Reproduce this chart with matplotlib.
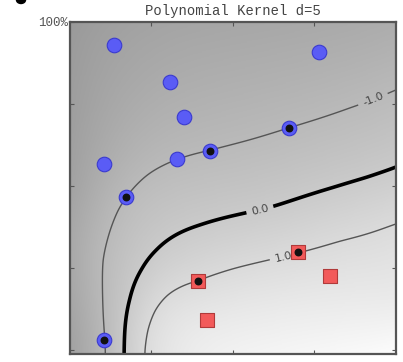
import numpy as np
import matplotlib
matplotlib.use("Agg")
import matplotlib.pyplot as plt
from matplotlib.colors import LinearSegmentedColormap, Normalize
from matplotlib.patches import Ellipse

# training points (fraction of the axis range)
blue_x = [0.137, 0.308, 0.351, 0.765, 0.106, 0.330, 0.431, 0.673, 0.173, 0.106]
blue_y = [0.930, 0.818, 0.711, 0.909, 0.568, 0.581, 0.608, 0.678, 0.468, 0.030]
blue_sv = [False, False, False, False, False, False, True, True, True, True]

red_x = [0.394, 0.701, 0.799, 0.422]
red_y = [0.210, 0.298, 0.225, 0.091]
red_sv = [True, True, False, False]

# traced level curves of the decision function
margin_neg_x = [0.115, 0.109, 0.100, 0.124, 0.146, 0.176, 0.238, 0.287, 0.330, 0.431, 0.554, 0.673, 0.860, 0.992]
margin_neg_y = [-0.012, 0.030, 0.274, 0.365, 0.426, 0.471, 0.535, 0.562, 0.581, 0.608, 0.641, 0.678, 0.739, 0.790]
boundary_x = [0.167, 0.186, 0.222, 0.268, 0.400, 0.532, 0.621, 0.808, 0.913, 1.002]
boundary_y = [-0.012, 0.152, 0.243, 0.304, 0.380, 0.416, 0.435, 0.495, 0.526, 0.556]
margin_pos_x = [0.225, 0.238, 0.260, 0.300, 0.352, 0.394, 0.508, 0.637, 0.701, 0.830, 1.002]
margin_pos_y = [-0.012, 0.061, 0.122, 0.170, 0.198, 0.207, 0.250, 0.281, 0.296, 0.334, 0.389]

# rough decision values toward the corners
far_x = [0.0, 0.5, 1.0, 0.0, 0.0, 1.0, 0.6, 1.0]
far_y = [1.0, 1.0, 1.0, 0.5, 0.0, 0.0, 0.0, 0.15]
far_v = [-3.0, -2.2, -1.8, -2.5, -2.5, 3.0, 2.5, 2.0]

levels = [-1.0, 0.0, 1.0]
title = "Polynomial Kernel d=5"

# --- smooth decision surface through the level curves (thin-plate spline) ---
cx = np.array(margin_neg_x + boundary_x + margin_pos_x + far_x)
cy = np.array(margin_neg_y + boundary_y + margin_pos_y + far_y)
cv = np.array([-1.0] * len(margin_neg_x) + [0.0] * len(boundary_x)
              + [1.0] * len(margin_pos_x) + far_v)

def tps(r):
    with np.errstate(divide="ignore", invalid="ignore"):
        out = r ** 2 * np.log(r)
    return np.nan_to_num(out)

C = np.column_stack([cx, cy])
n = len(C)
D = np.linalg.norm(C[:, None, :] - C[None, :, :], axis=2)
A = np.zeros((n + 3, n + 3))
A[:n, :n] = tps(D) + 6e-3 * np.eye(n)
Pm = np.column_stack([np.ones(n), cx, cy])
A[:n, n:] = Pm
A[n:, :n] = Pm.T
coef = np.linalg.solve(A, np.concatenate([cv, np.zeros(3)]))
w, a = coef[:n], coef[n:]

gx = np.linspace(0, 1, 300)
gy = np.linspace(-0.012, 1.0, 300)
GX, GY = np.meshgrid(gx, gy)
G = np.column_stack([GX.ravel(), GY.ravel()])
DG = np.linalg.norm(G[:, None, :] - C[None, :, :], axis=2)
F = (tps(DG) @ w + a[0] + a[1] * G[:, 0] + a[2] * G[:, 1]).reshape(GX.shape)

fig = plt.figure(figsize=(4.03, 3.62), dpi=100)
ax = fig.add_axes([69.5 / 403, 1 - 354 / 362, 326 / 403, 332 / 362])

shade = LinearSegmentedColormap.from_list("shade", ["#9a9a9a", "#fbfbfb"])
ax.imshow(F, extent=(0, 1, -0.012, 1.0), origin="lower", cmap=shade,
          norm=Normalize(-3, 3), aspect="auto", interpolation="bilinear")

cs = ax.contour(GX, GY, F, levels=levels, colors=["#555555", "black", "#555555"],
                linewidths=[1.0, 2.6, 1.0])
ax.clabel(cs, fmt="%.1f", fontsize=8, colors="#444444",
          manual=[(0.927, 0.774), (0.584, 0.428), (0.654, 0.292)])

ax.scatter(blue_x, blue_y, s=110, c="#5a5cf5", edgecolors="#3a3ad0",
           linewidths=0.8, zorder=3)
ax.scatter(red_x, red_y, s=100, marker="s", c="#f25a5a", edgecolors="#b03a3a",
           linewidths=0.8, zorder=3)
svx = [x for x, s in zip(blue_x + red_x, blue_sv + red_sv) if s]
svy = [y for y, s in zip(blue_y + red_y, blue_sv + red_sv) if s]
ax.scatter(svx, svy, s=22, c="#111111", zorder=4)

ax.set_xlim(0, 1)
ax.set_ylim(-0.012, 1.0)
ax.set_xticks([0.25, 0.5, 0.75])
ax.set_xticklabels([])
ax.set_yticks([0.0, 0.25, 0.5, 0.75, 1.0])
ax.set_yticklabels(["", "", "", "", "100%"], family="Liberation Mono",
                   fontsize=9, color="#555555")
ax.tick_params(direction="in", length=3, width=0.8, color="#555555",
               top=True, right=True, pad=1)
for sp in ax.spines.values():
    sp.set_color("#555555")
    sp.set_linewidth(1.6)

ax.set_title(title, family="Liberation Mono", fontsize=10, color="#444444", pad=5)

fig.patches.append(Ellipse((21 / 403, 1.0), 9 / 403, 7 / 362,
                           transform=fig.transFigure, color="black"))

fig.savefig("out.png", dpi=100)
